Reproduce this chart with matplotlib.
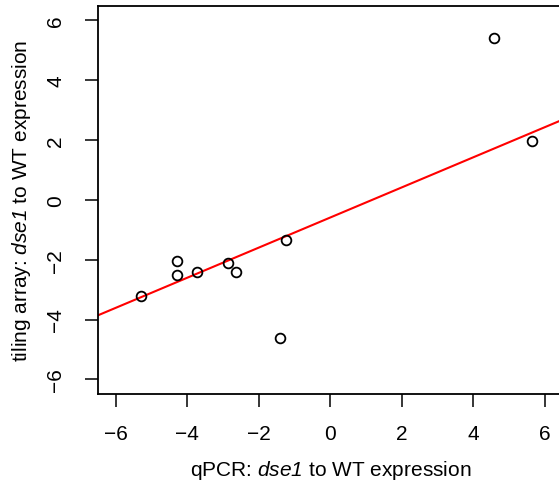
import numpy as np
import matplotlib
matplotlib.use('Agg')
import matplotlib.pyplot as plt

plt.rcParams['font.family'] = ['Liberation Sans', 'DejaVu Sans']
# only the gene name goes through mathtext, so make all of it italic
plt.rcParams['mathtext.fontset'] = 'custom'
plt.rcParams['mathtext.rm'] = 'Liberation Sans:italic'
plt.rcParams['mathtext.it'] = 'Liberation Sans:italic'

# expression ratios, dse1 vs WT
qpcr = [-5.30, -4.29, -4.29, -3.73, -2.85, -2.65, -1.42, -1.25, 4.57, 5.64]
tiling = [-3.22, -2.04, -2.51, -2.42, -2.12, -2.42, -4.63, -1.33, 5.40, 1.97]

# fitted line
fit_intercept = -0.59
fit_slope = 0.503

ticks = [-6, -4, -2, 0, 2, 4, 6]
tick_labels = ['\u22126', '\u22124', '\u22122', '0', '2', '4', '6']

fig = plt.figure(figsize=(5.59, 4.85), dpi=100)
ax = fig.add_axes([98/559, 90/485, 464.6/559, 388.3/485])

ax.plot(qpcr, tiling, 'o', mfc='none', mec='black', ms=7, mew=1.3, zorder=3)

xl = np.array([-6.5, 6.5])
ax.plot(xl, fit_intercept + fit_slope*xl, color='red', lw=1.5, zorder=2)

ax.set_xlim(-6.5, 6.5)
ax.set_ylim(-6.49, 6.49)

ax.set_xticks(ticks)
ax.set_xticklabels(tick_labels)
ax.set_yticks(ticks)
ax.set_yticklabels(tick_labels, rotation=90, va='center')
ax.tick_params(length=9.4, width=1.1, labelsize=15, pad=12)
ax.tick_params(axis='y', pad=14)

for s in ax.spines.values():
    s.set_linewidth(1.3)

ax.set_xlabel('qPCR: $\\mathrm{dse1}$ to WT expression', fontsize=15, labelpad=11)
ax.set_ylabel('tiling array: $\\mathrm{dse1}$ to WT expression', fontsize=15, labelpad=10)

fig.savefig('out.png', dpi=100)
